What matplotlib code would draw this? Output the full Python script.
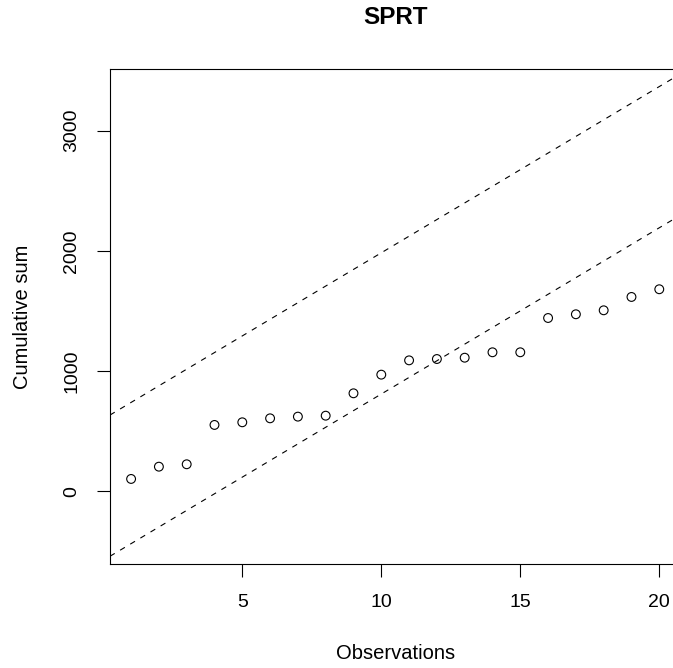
#importing
import matplotlib
matplotlib.use("Agg")
import matplotlib.pyplot as plt

#data
observations = list(range(1, 21))
cumulative_sum = [104, 206, 226, 553, 575, 608, 622, 630, 816, 971,
                  1090, 1101, 1112, 1157, 1157, 1442, 1473, 1506, 1617, 1681]

#boundary lines of the test (intercept, slope)
upper_intercept = 602
lower_intercept = -572
boundary_slope = 138.2

x_ticks = [5, 10, 15, 20]
y_ticks = [0, 1000, 2000, 3000]

#style, close to the look of base R graphics
plt.rcParams["font.family"] = ["Liberation Sans", "DejaVu Sans"]
plt.rcParams["lines.scale_dashes"] = False


def plot_sprt():
    '''Draw the cumulative sum with the two SPRT boundaries'''
    fig = plt.figure(figsize=(6.73, 6.68), dpi=100)
    # right edge of the box runs off the picture, as in the reference
    ax = fig.add_axes([0.1634, 0.1557, 0.8476, 0.741])

    ax.scatter(observations, cumulative_sum, s=40, facecolors="none",
               edgecolors="black", linewidths=0.8, zorder=3)

    for intercept in (upper_intercept, lower_intercept):
        ax.axline((0, intercept), slope=boundary_slope, color="black",
                  linewidth=0.8, linestyle=(0, (4, 4.5)))

    ax.set_xlim(0.24, 20.76)
    ax.set_ylim(-603, 3512)
    ax.set_xticks(x_ticks)
    ax.set_yticks(y_ticks)

    ax.spines["right"].set_visible(False)
    for spine in ax.spines.values():
        spine.set_linewidth(0.8)

    ax.tick_params(direction="out", length=9.5, width=0.8, pad=12,
                   labelsize=14, colors="black")
    ax.tick_params(axis="y", labelrotation=90)
    for label in ax.get_yticklabels():
        label.set_verticalalignment("center")

    ax.set_xlabel("Observations", fontsize=14.5, va="center")
    ax.xaxis.set_label_coords(0.501, -0.18)
    ax.set_ylabel("Cumulative sum", fontsize=14.5, va="center")
    ax.yaxis.set_label_coords(-0.1525, 0.5)
    ax.set_title("SPRT", fontsize=17.5, fontweight="bold", y=1.105,
                 va="center", pad=0)

    fig.savefig("out.png", dpi=100)
    plt.close(fig)


if __name__ == "__main__":
    plot_sprt()
